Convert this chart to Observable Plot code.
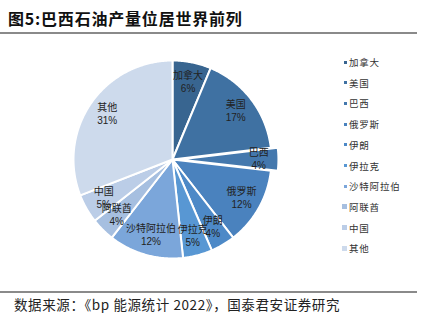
<!DOCTYPE html>
<html><head><meta charset="utf-8">
<script src="https://cdn.jsdelivr.net/npm/d3@7"></script>
<script src="https://cdn.jsdelivr.net/npm/@observablehq/plot@0.6"></script>
<style>
body{margin:0;background:#fff;width:426px;height:332px;position:relative;overflow:hidden;font-family:"Noto Sans CJK SC","Liberation Serif",sans-serif;color:#222;}
#title{position:absolute;left:8px;top:8px;font-size:16px;font-weight:bold;letter-spacing:0.8px;line-height:20px;color:#111;}
#tline{position:absolute;left:0;top:32px;width:417px;height:2px;background:#8a8a8a;}
#bline{position:absolute;left:0;top:291px;width:417px;height:2px;background:#8a8a8a;}
#src{position:absolute;left:14px;top:295px;font-size:13.5px;letter-spacing:0.6px;line-height:18px;color:#222;}
#chart{position:absolute;left:0;top:35px;}
#legend{position:absolute;left:342px;top:56px;font-size:9.5px;color:#333;}
.li{position:absolute;white-space:nowrap;line-height:12px;height:12px;}
.mk{position:absolute;}
</style></head>
<body>
<div id="title">图5:巴西石油产量位居世界前列</div>
<div id="tline"></div>
<div id="chart"></div>
<div id="legend"></div>
<div id="bline"></div>
<div id="src">数据来源：《bp 能源统计 2022》，国泰君安证券研究</div>
<script>
const countries = ["加拿大","美国","巴西","俄罗斯","伊朗","伊拉克","沙特阿拉伯","阿联酋","中国","其他"];
const shares = [6.3, 16.8, 3.7, 12.7, 4.0, 4.8, 12.2, 3.9, 4.7, 30.9];
const pctLabels = ["6%","17%","4%","12%","4%","5%","12%","4%","5%","31%"];
const colors = ["#386590","#3F71A2","#4478AD","#4A82BE","#4D89C7","#5897D3","#7BA6DA","#A6BFE0","#BBCDE7","#CDDAEC"];
const exploded = ["巴西"];

const arcs = d3.pie().sort(null).value(d => d)(shares);
const poly = [];
const labels = [];
arcs.forEach((a, i) => {
  const mid = (a.startAngle + a.endAngle) / 2;
  const off = exploded.includes(countries[i]) ? 0.07 : 0;
  const ox = off * Math.sin(mid), oy = off * Math.cos(mid);
  poly.push({c: countries[i], x: ox, y: oy});
  const n = Math.max(4, Math.ceil((a.endAngle - a.startAngle) / 0.01));
  for (let k = 0; k <= n; k++) {
    const t = a.startAngle + (a.endAngle - a.startAngle) * k / n;
    poly.push({c: countries[i], x: ox + Math.sin(t), y: oy + Math.cos(t)});
  }
  poly.push({c: countries[i], x: ox, y: oy});
  const lr = 0.8 + off;
  labels.push({c: countries[i], x: lr * Math.sin(mid), y: lr * Math.cos(mid), name: countries[i], pct: pctLabels[i]});
});

const cx = 172, cy = 124, R = 99;
const chart = Plot.plot({
  width: 426, height: 256,
  margin: 0,
  x: {domain: [-1, 1], range: [cx - R, cx + R], axis: null},
  y: {domain: [-1, 1], range: [cy + R, cy - R], axis: null},
  color: {domain: countries, range: colors},
  style: {fontFamily: '"Noto Sans CJK SC", sans-serif', background: "transparent"},
  marks: [
    Plot.line(poly, {x: "x", y: "y", z: "c", fill: "c", stroke: "white", strokeWidth: 2, strokeLinejoin: "round", curve: "linear"}),
    Plot.text(labels, {x: "x", y: "y", text: "name", dy: -6.5, fontSize: 10, fill: "#222"}),
    Plot.text(labels, {x: "x", y: "y", text: "pct", dy: 6.5, fontSize: 10, fill: "#222", fontFamily: '"Liberation Sans", Arial, sans-serif'})
  ]
});
document.getElementById("chart").appendChild(chart);

const leg = document.getElementById("legend");
countries.forEach((c, i) => {
  const d = document.createElement("div");
  d.className = "li";
  d.style.top = (i * 20.7) + "px";
  const big = i >= 7;
  const s = big ? 5 : 3;
  const m = document.createElement("span");
  m.className = "mk";
  m.style.width = s + "px"; m.style.height = s + "px";
  m.style.left = (big ? 0 : 2) + "px";
  m.style.top = (6 - s / 2) + "px";
  m.style.background = colors[i];
  d.appendChild(m);
  const t = document.createElement("span");
  t.textContent = c;
  t.style.marginLeft = "7px";
  t.style.letterSpacing = "0.8px";
  d.appendChild(t);
  leg.appendChild(d);
});
</script>
</body></html>
